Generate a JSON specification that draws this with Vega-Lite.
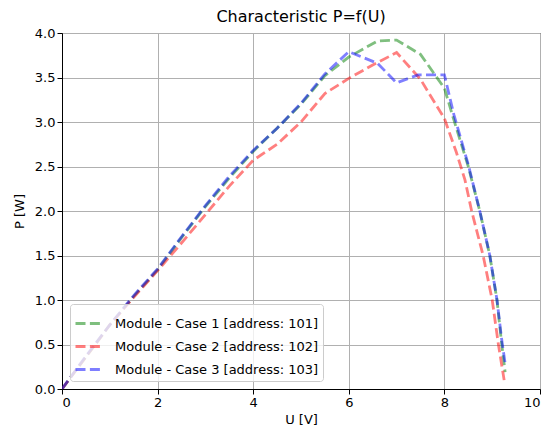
{
  "$schema": "https://vega.github.io/schema/vega-lite/v6.json",
  "width": 478,
  "height": 356,
  "autosize": {"type": "none"},
  "padding": {"left": 62, "top": 33, "right": 7, "bottom": 41},
  "title": {"text": "Characteristic P=f(U)", "font": "DejaVu Sans", "fontSize": 16, "fontWeight": "normal", "color": "black", "offset": 2},
  "config": {
    "font": "DejaVu Sans",
    "view": {"stroke": "black", "strokeWidth": 1},
    "axis": {
      "labelFont": "DejaVu Sans", "labelFontSize": 13, "labelColor": "black",
      "titleFont": "DejaVu Sans", "titleFontSize": 13, "titleFontWeight": "normal", "titleColor": "black",
      "domainColor": "black", "tickColor": "black", "tickSize": 5,
      "grid": true, "gridColor": "#b0b0b0", "gridWidth": 1, "gridOpacity": 1
    },
    "legend": {
      "labelFont": "DejaVu Sans", "labelFontSize": 13, "labelColor": "black", "labelLimit": 400
    }
  },
  "data": {"values": [
    {"s":"Module - Case 1 [address: 101]","U":0,"P":0},
    {"s":"Module - Case 1 [address: 101]","U":0.5,"P":0.36},
    {"s":"Module - Case 1 [address: 101]","U":1,"P":0.72},
    {"s":"Module - Case 1 [address: 101]","U":1.5,"P":1.04},
    {"s":"Module - Case 1 [address: 101]","U":2,"P":1.34},
    {"s":"Module - Case 1 [address: 101]","U":2.5,"P":1.7},
    {"s":"Module - Case 1 [address: 101]","U":3,"P":2.05},
    {"s":"Module - Case 1 [address: 101]","U":3.5,"P":2.37},
    {"s":"Module - Case 1 [address: 101]","U":4,"P":2.67},
    {"s":"Module - Case 1 [address: 101]","U":4.5,"P":2.93},
    {"s":"Module - Case 1 [address: 101]","U":5,"P":3.2},
    {"s":"Module - Case 1 [address: 101]","U":5.5,"P":3.52},
    {"s":"Module - Case 1 [address: 101]","U":6,"P":3.73},
    {"s":"Module - Case 1 [address: 101]","U":6.6,"P":3.91},
    {"s":"Module - Case 1 [address: 101]","U":7,"P":3.92},
    {"s":"Module - Case 1 [address: 101]","U":7.5,"P":3.76},
    {"s":"Module - Case 1 [address: 101]","U":8,"P":3.38},
    {"s":"Module - Case 1 [address: 101]","U":8.2,"P":3.02},
    {"s":"Module - Case 1 [address: 101]","U":8.5,"P":2.5},
    {"s":"Module - Case 1 [address: 101]","U":8.74,"P":2.0},
    {"s":"Module - Case 1 [address: 101]","U":8.95,"P":1.5},
    {"s":"Module - Case 1 [address: 101]","U":9.1,"P":1.0},
    {"s":"Module - Case 1 [address: 101]","U":9.2,"P":0.5},
    {"s":"Module - Case 1 [address: 101]","U":9.27,"P":0.19},
    {"s":"Module - Case 2 [address: 102]","U":0,"P":0},
    {"s":"Module - Case 2 [address: 102]","U":0.5,"P":0.36},
    {"s":"Module - Case 2 [address: 102]","U":1,"P":0.72},
    {"s":"Module - Case 2 [address: 102]","U":1.5,"P":1.03},
    {"s":"Module - Case 2 [address: 102]","U":2,"P":1.33},
    {"s":"Module - Case 2 [address: 102]","U":2.5,"P":1.64},
    {"s":"Module - Case 2 [address: 102]","U":3,"P":1.96},
    {"s":"Module - Case 2 [address: 102]","U":3.5,"P":2.28},
    {"s":"Module - Case 2 [address: 102]","U":4,"P":2.57},
    {"s":"Module - Case 2 [address: 102]","U":4.5,"P":2.75},
    {"s":"Module - Case 2 [address: 102]","U":5,"P":3.0},
    {"s":"Module - Case 2 [address: 102]","U":5.5,"P":3.32},
    {"s":"Module - Case 2 [address: 102]","U":6,"P":3.49},
    {"s":"Module - Case 2 [address: 102]","U":6.5,"P":3.64},
    {"s":"Module - Case 2 [address: 102]","U":7,"P":3.78},
    {"s":"Module - Case 2 [address: 102]","U":7.5,"P":3.48},
    {"s":"Module - Case 2 [address: 102]","U":8,"P":3.04},
    {"s":"Module - Case 2 [address: 102]","U":8.25,"P":2.66},
    {"s":"Module - Case 2 [address: 102]","U":8.43,"P":2.35},
    {"s":"Module - Case 2 [address: 102]","U":8.57,"P":2.0},
    {"s":"Module - Case 2 [address: 102]","U":8.81,"P":1.5},
    {"s":"Module - Case 2 [address: 102]","U":9.0,"P":1.0},
    {"s":"Module - Case 2 [address: 102]","U":9.13,"P":0.5},
    {"s":"Module - Case 2 [address: 102]","U":9.25,"P":0.1},
    {"s":"Module - Case 3 [address: 103]","U":0,"P":0},
    {"s":"Module - Case 3 [address: 103]","U":0.5,"P":0.37},
    {"s":"Module - Case 3 [address: 103]","U":1,"P":0.72},
    {"s":"Module - Case 3 [address: 103]","U":1.5,"P":1.05},
    {"s":"Module - Case 3 [address: 103]","U":2,"P":1.35},
    {"s":"Module - Case 3 [address: 103]","U":2.5,"P":1.71},
    {"s":"Module - Case 3 [address: 103]","U":3,"P":2.06},
    {"s":"Module - Case 3 [address: 103]","U":3.5,"P":2.39},
    {"s":"Module - Case 3 [address: 103]","U":4,"P":2.68},
    {"s":"Module - Case 3 [address: 103]","U":4.5,"P":2.93},
    {"s":"Module - Case 3 [address: 103]","U":5,"P":3.21},
    {"s":"Module - Case 3 [address: 103]","U":5.5,"P":3.54},
    {"s":"Module - Case 3 [address: 103]","U":6,"P":3.79},
    {"s":"Module - Case 3 [address: 103]","U":6.6,"P":3.66},
    {"s":"Module - Case 3 [address: 103]","U":7,"P":3.44},
    {"s":"Module - Case 3 [address: 103]","U":7.45,"P":3.53},
    {"s":"Module - Case 3 [address: 103]","U":8,"P":3.53},
    {"s":"Module - Case 3 [address: 103]","U":8.2,"P":3.08},
    {"s":"Module - Case 3 [address: 103]","U":8.5,"P":2.52},
    {"s":"Module - Case 3 [address: 103]","U":8.74,"P":2.0},
    {"s":"Module - Case 3 [address: 103]","U":8.95,"P":1.5},
    {"s":"Module - Case 3 [address: 103]","U":9.1,"P":1.0},
    {"s":"Module - Case 3 [address: 103]","U":9.2,"P":0.55},
    {"s":"Module - Case 3 [address: 103]","U":9.27,"P":0.29}
  ]},
  "mark": {"type": "line", "strokeWidth": 2.8, "strokeDash": [10, 4.4], "opacity": 0.5, "clip": true},
  "encoding": {
    "x": {"field": "U", "type": "quantitative", "scale": {"domain": [0, 10], "nice": false, "zero": false},
      "axis": {"title": "U [V]", "values": [0, 2, 4, 6, 8, 10], "format": "d", "titlePadding": 4, "grid": true}},
    "y": {"field": "P", "type": "quantitative", "scale": {"domain": [0, 4], "nice": false},
      "axis": {"title": "P [W]", "values": [0, 0.5, 1, 1.5, 2, 2.5, 3, 3.5, 4], "format": ".1f", "titlePadding": 8, "grid": true}},
    "color": {"field": "s", "type": "nominal",
      "scale": {"domain": ["Module - Case 1 [address: 101]", "Module - Case 2 [address: 102]", "Module - Case 3 [address: 103]"], "range": ["green", "red", "blue"]},
      "legend": {"title": null, "orient": "bottom-left", "offset": 8,
        "symbolType": "stroke", "symbolSize": 784, "symbolStrokeWidth": 2.8, "symbolDash": [10, 4.4], "symbolOpacity": 0.5,
        "rowPadding": -6, "labelOffset": 10,
        "fillColor": "rgba(255,255,255,0.8)", "strokeColor": "#cccccc", "cornerRadius": 3, "padding": 4}}
  }
}
